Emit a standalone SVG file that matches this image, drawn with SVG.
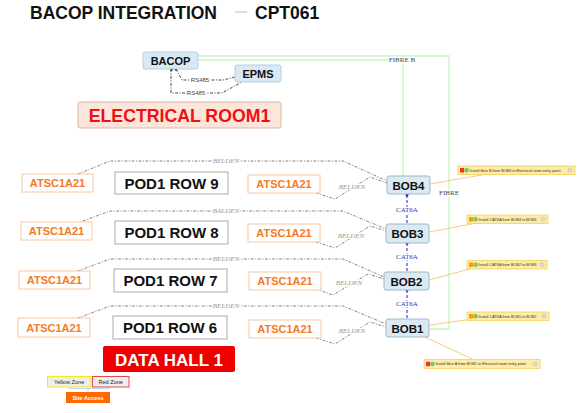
<svg xmlns="http://www.w3.org/2000/svg" width="588" height="413" viewBox="0 0 588 413">
<defs>
<style>
.sans{font-family:"Liberation Sans",Arial,sans-serif}
.serif{font-family:"Liberation Serif","Times New Roman",serif}
.title{font-family:"Liberation Sans",Arial,sans-serif;font-weight:bold;font-size:17.5px;fill:#111}
.nb{fill:#d9e9f3;stroke:#b3cfe0;stroke-width:1}
.nbt{font-family:"Liberation Sans",Arial,sans-serif;font-weight:bold;font-size:11px;fill:#111;text-anchor:middle}
.bob{fill:#dae9f2;stroke:#9fb8c6;stroke-width:1}
.bobt{font-family:"Liberation Sans",Arial,sans-serif;font-weight:bold;font-size:11.5px;fill:#111;text-anchor:middle}
.atsc{fill:#fff;stroke:#f8c8a8;stroke-width:1}
.atsct{font-family:"Liberation Sans",Arial,sans-serif;font-weight:bold;font-size:11px;fill:#f57a22;text-anchor:middle}
.pod{fill:#fff;stroke:#aaa;stroke-width:1}
.podt{font-family:"Liberation Sans",Arial,sans-serif;font-weight:bold;font-size:15px;fill:#111;text-anchor:middle}
.belden{fill:none;stroke:#777;stroke-width:0.9;stroke-dasharray:3 1.5 1 1.5}
.rs{fill:none;stroke:#333;stroke-width:0.9;stroke-dasharray:3 1.5 1 1.5}
.bl{font-family:"Liberation Serif","Times New Roman",serif;font-style:italic;font-size:7px;fill:#999;text-anchor:middle;stroke:#fff;stroke-width:2;paint-order:stroke}
.fibre{fill:none;stroke:#c6f3c6;stroke-width:1.3}
.fl{font-family:"Liberation Serif","Times New Roman",serif;font-size:7px;fill:#444;text-anchor:middle;stroke:#fff;stroke-width:2.5;paint-order:stroke}
.cat{fill:none;stroke:#1a1aee;stroke-width:1;stroke-dasharray:3 2}
.catl{font-family:"Liberation Serif","Times New Roman",serif;font-size:7px;fill:#3333bb;text-anchor:middle;stroke:#fff;stroke-width:2.5;paint-order:stroke}
.nl{fill:none;stroke:#f5c56a;stroke-width:0.9}
.note{fill:#fdeca6;stroke:#f3d060;stroke-width:0.8}
.nt{font-family:"Liberation Sans",Arial,sans-serif;font-size:3.8px;fill:#333}
.rs485{font-family:"Liberation Sans",Arial,sans-serif;font-size:6px;fill:#444;text-anchor:middle;stroke:#fff;stroke-width:2;paint-order:stroke}
</style>
</defs>

<g id="title">
<text class="title" x="30" y="19">BACOP INTEGRATION</text>
<line x1="235" y1="12" x2="247" y2="12" stroke="#bbb" stroke-width="1"/>
<text class="title" x="255" y="19">CPT061</text>
</g>

<g id="connectors">
<!-- fibre -->
<path class="fibre" d="M198,56 H449 V329 H430"/>
<path class="fibre" d="M198,60 H403 V176"/>
<text class="fl" x="402" y="62">FIBRE B</text>
<text class="fl" x="449" y="195">FIBRE</text>
<!-- RS485 -->
<path class="rs" d="M176,69 L182,80 H223 L235,77"/>
<path class="rs" d="M171,69 V93 H222 L242,82"/>
<circle cx="171.5" cy="69.5" r="1.3" fill="#111"/>
<circle cx="176" cy="69.5" r="1.3" fill="#111"/>
<text class="rs485" x="200" y="82">RS485</text>
<text class="rs485" x="196" y="95">RS485</text>
<!-- BELDEN row 9 -->
<path class="belden" d="M78,174 L110,161 H343 L387,181"/>
<path class="belden" d="M316,193 L335,199 L370,177 L387,183"/>
<text class="bl" x="226" y="163">BELDEN</text>
<text class="bl" x="352" y="189">BELDEN</text>
<!-- row 8 -->
<path class="belden" d="M83,221 L110,211 H343 L386,229"/>
<path class="belden" d="M316,242 L335,248 L370,226 L386,231"/>
<text class="bl" x="226" y="213">BALDEN</text>
<text class="bl" x="351" y="238">BELDEN</text>
<!-- row 7 -->
<path class="belden" d="M78,271 L110,259 H343 L384,277"/>
<path class="belden" d="M316,289 L333,295 L368,274 L384,279"/>
<text class="bl" x="226" y="261">BELDEN</text>
<text class="bl" x="349" y="285">BELDEN</text>
<!-- row 6 -->
<path class="belden" d="M78,318 L110,306 H343 L386,324"/>
<path class="belden" d="M316,338 L335,344 L370,322 L386,327"/>
<text class="bl" x="226" y="308">BELDEN</text>
<text class="bl" x="352" y="333">BELDEN</text>
<!-- CAT6A -->
<path class="cat" d="M407,195 V224"/>
<circle cx="407" cy="195" r="1.5" fill="#1a1aee"/>
<text class="catl" x="407" y="212">CAT6A</text>
<path class="cat" d="M407,243 V272"/>
<circle cx="407" cy="243" r="1.5" fill="#1a1aee"/>
<text class="catl" x="407" y="259">CAT6A</text>
<path class="cat" d="M407,290 V319"/>
<circle cx="407" cy="290" r="1.5" fill="#1a1aee"/>
<text class="catl" x="407" y="306">CAT6A</text>
<!-- note lines -->
<path class="nl" d="M430,184 L487,174"/>
<path class="nl" d="M429,232 L477,223"/>
<path class="nl" d="M429,280 L473,268"/>
<path class="nl" d="M430,325 L472,319"/>
<path class="nl" d="M425,337 L472,359"/>
</g>

<g id="bacop">
<rect class="nb" x="143" y="52" width="55" height="17" rx="2"/>
<text class="nbt" x="170.5" y="64.5">BACOP</text>
</g>
<g id="epms">
<rect class="nb" x="235" y="65" width="46" height="17" rx="2"/>
<text class="nbt" x="258" y="77.5">EPMS</text>
</g>
<g id="electrical-room1">
<rect x="78" y="102" width="203" height="26" rx="2" fill="#fce5da" stroke="#dcb8a6" stroke-width="1"/>
<text x="179.5" y="121.5" font-family="Liberation Sans, Arial, sans-serif" font-weight="bold" font-size="17.7" fill="#ee1111" text-anchor="middle">ELECTRICAL ROOM1</text>
</g>

<g id="row9">
<rect class="atsc" x="22" y="174" width="71" height="18"/>
<text class="atsct" x="57.5" y="187">ATSC1A21</text>
<rect class="pod" x="115" y="172" width="113" height="22"/>
<text class="podt" x="171.5" y="188.5">POD1 ROW 9</text>
<rect class="atsc" x="248" y="175" width="72" height="18"/>
<text class="atsct" x="284" y="188">ATSC1A21</text>
</g>
<g id="row8">
<rect class="atsc" x="21" y="222" width="71" height="18"/>
<text class="atsct" x="56.5" y="235">ATSC1A21</text>
<rect class="pod" x="115" y="221" width="113" height="23"/>
<text class="podt" x="171.5" y="237.5">POD1 ROW 8</text>
<rect class="atsc" x="248" y="224" width="72" height="18"/>
<text class="atsct" x="284" y="237">ATSC1A21</text>
</g>
<g id="row7">
<rect class="atsc" x="19" y="271" width="71" height="18"/>
<text class="atsct" x="54.5" y="284">ATSC1A21</text>
<rect class="pod" x="114" y="269" width="113" height="23"/>
<text class="podt" x="170.5" y="285.5">POD1 ROW 7</text>
<rect class="atsc" x="249" y="272" width="72" height="18"/>
<text class="atsct" x="285" y="285">ATSC1A21</text>
</g>
<g id="row6">
<rect class="atsc" x="18" y="318" width="72" height="19"/>
<text class="atsct" x="54" y="331.5">ATSC1A21</text>
<rect class="pod" x="113" y="316" width="114" height="23"/>
<text class="podt" x="170" y="332.5">POD1 ROW 6</text>
<rect class="atsc" x="249" y="320" width="72" height="18"/>
<text class="atsct" x="285" y="333">ATSC1A21</text>
</g>

<g id="bob4">
<rect class="bob" x="387" y="176" width="43" height="18" rx="2"/>
<text class="bobt" x="408.5" y="189.5">BOB4</text>
</g>
<g id="bob3">
<rect class="bob" x="386" y="224" width="43" height="19" rx="2"/>
<text class="bobt" x="407.5" y="238">BOB3</text>
</g>
<g id="bob2">
<rect class="bob" x="384" y="272" width="45" height="18" rx="2"/>
<text class="bobt" x="406.5" y="285.5">BOB2</text>
</g>
<g id="bob1">
<rect class="bob" x="386" y="319" width="43" height="18" rx="2"/>
<text class="bobt" x="407.5" y="332.5">BOB1</text>
</g>

<g id="data-hall-1">
<rect x="103" y="346" width="132" height="26" rx="2" fill="#ee0000"/>
<text x="169" y="365.5" font-family="Liberation Sans, Arial, sans-serif" font-weight="bold" font-size="17" fill="#fff" text-anchor="middle">DATA HALL 1</text>
</g>

<g id="note1">
<rect class="note" x="458" y="166" width="117" height="8.5"/>
<rect x="460" y="168" width="4" height="4.5" fill="#e33"/>
<circle cx="466.5" cy="170.2" r="2" fill="#7c7" stroke="#4a4" stroke-width="0.4"/>
<text class="nt" x="469.5" y="171.6">Install fibre B from BOB4 to Electrical room entry point</text>
<circle cx="570" cy="170.2" r="2" fill="#ddd" stroke="#aab" stroke-width="0.4"/>
</g>
<g id="note2">
<rect class="note" x="467" y="215" width="81" height="8.5"/>
<rect x="469" y="217" width="4" height="4.5" fill="#f90"/>
<circle cx="475.5" cy="219.2" r="2" fill="#7c7" stroke="#4a4" stroke-width="0.4"/>
<text class="nt" x="478.5" y="220.6">Install CAT6A from BOB4 to BOB3</text>
<circle cx="543" cy="219.2" r="2" fill="#ddd" stroke="#aab" stroke-width="0.4"/>
</g>
<g id="note3">
<rect class="note" x="467" y="260.5" width="80" height="8.5"/>
<rect x="469" y="262.5" width="4" height="4.5" fill="#f90"/>
<circle cx="475.5" cy="264.7" r="2" fill="#7c7" stroke="#4a4" stroke-width="0.4"/>
<text class="nt" x="478.5" y="266.1">Install CAT6A from BOB2 to BOB3</text>
<circle cx="542" cy="264.7" r="2" fill="#ddd" stroke="#aab" stroke-width="0.4"/>
</g>
<g id="note4">
<rect class="note" x="467" y="312" width="82" height="8.5"/>
<rect x="469" y="314" width="4" height="4.5" fill="#f90"/>
<circle cx="475.5" cy="316.2" r="2" fill="#7c7" stroke="#4a4" stroke-width="0.4"/>
<text class="nt" x="478.5" y="317.6">Install CAT6A from BOB1 to BOB2</text>
<circle cx="544" cy="316.2" r="2" fill="#ddd" stroke="#aab" stroke-width="0.4"/>
</g>
<g id="note5">
<rect class="note" x="424" y="359.5" width="116" height="9"/>
<rect x="426" y="361.7" width="4" height="4.5" fill="#e33"/>
<circle cx="432.5" cy="364" r="2" fill="#7c7" stroke="#4a4" stroke-width="0.4"/>
<text class="nt" x="435.5" y="365.4">Install fibre A from BOB1 to Electrical room entry point</text>
<circle cx="535" cy="364" r="2" fill="#ddd" stroke="#aab" stroke-width="0.4"/>
</g>

<g id="legend">
<path d="M69,387 V388.5 H110 V387 M88,388.5 V392" fill="none" stroke="#b8d0f0" stroke-width="0.8"/>
<g id="yellow-zone">
<rect x="47.5" y="376.5" width="43.5" height="10.5" fill="#eee" stroke="#f5ea10" stroke-width="1"/>
<text x="69.2" y="384" font-family="Liberation Sans, Arial, sans-serif" font-size="5.6" fill="#222" text-anchor="middle">Yellow Zone</text>
</g>
<g id="red-zone">
<rect x="92.5" y="376.5" width="36.5" height="10.5" fill="#eee" stroke="#e84848" stroke-width="1"/>
<text x="110.7" y="384" font-family="Liberation Sans, Arial, sans-serif" font-size="5.6" fill="#222" text-anchor="middle">Red Zone</text>
</g>
<g id="site-access">
<rect x="66" y="392" width="44" height="11" fill="#ff6a00"/>
<text x="88" y="399.6" font-family="Liberation Sans, Arial, sans-serif" font-weight="bold" font-size="5.6" fill="#fff" text-anchor="middle">Site Access</text>
</g>
</g>
</svg>
